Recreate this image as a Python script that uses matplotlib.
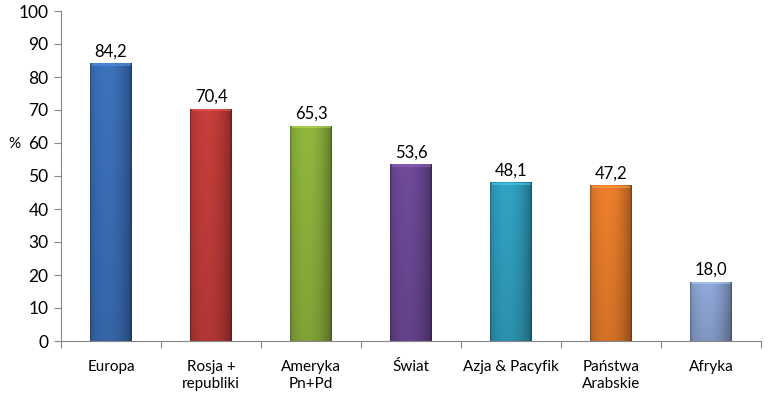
import numpy as np
import matplotlib.pyplot as plt
from matplotlib.colors import to_rgb
from matplotlib.patches import FancyBboxPatch

# Chart data
categories = ['Europa', 'Rosja +\nrepubliki', 'Ameryka\nPn+Pd', 'Świat',
              'Azja & Pacyfik', 'Państwa\nArabskie', 'Afryka']
values = [84.2, 70.4, 65.3, 53.6, 48.1, 47.2, 18.0]
labels = ['84,2', '70,4', '65,3', '53,6', '48,1', '47,2', '18,0']
colors = ['#3A6DB5', '#BE3B38', '#8AAF3B', '#6A4793', '#2F9CBB', '#E37A2A', '#8AA2D0']

plt.rcParams['font.family'] = ['Lato', 'DejaVu Sans']

fig = plt.figure(figsize=(7.71, 3.97), dpi=100)
ax = fig.add_axes([61 / 771, 56 / 397, 700 / 771, 330 / 397])

x = np.arange(len(categories))
bw = 0.42

# shading: brighter left-centre, darker edges, slightly darker toward the bottom
t = np.linspace(0, 1, 64)
across = 1.0 - 0.35 * (np.abs(t - 0.4) / 0.6) ** 2
across[:2] *= 0.8
across[-2:] *= 0.75
down = np.linspace(1.0, 0.88, 128)
shade = down[:, None] * across[None, :]

bars = ax.bar(x, values, width=bw, color='none', edgecolor='none', zorder=2)
for b, c in zip(bars, colors):
    rgb = np.array(to_rgb(c))
    img = np.clip(rgb[None, None, :] * (0.05 + 1.0 * shade[:, :, None]), 0, 1)
    x0, y0 = b.get_x(), b.get_y()
    w, h = b.get_width(), b.get_height()
    im = ax.imshow(img, extent=(x0, x0 + w, y0, y0 + h), aspect='auto',
                   origin='upper', zorder=2, interpolation='bilinear')
    im.set_clip_path(b)
    # light bevel on top
    top = np.clip(rgb * 1.2 + 0.08, 0, 1)
    ax.add_patch(FancyBboxPatch((x0 + 0.015, y0 + h - 0.8), w - 0.03, 0.7,
                                boxstyle='square,pad=0', facecolor=top,
                                edgecolor='none', alpha=0.5, zorder=3))

for xi, v, lab in zip(x, values, labels):
    ax.text(xi, v + 1.2, lab, ha='center', va='bottom', fontsize=12, color='black')

ax.set_xlim(-0.5, len(categories) - 0.5)
ax.set_ylim(0, 100)
ax.set_yticks(np.arange(0, 101, 10))
ax.set_xticks(np.arange(-0.5, len(categories), 1.0))
ax.set_xticklabels([])
ax.set_xticks(x, minor=True)
ax.set_xticklabels(categories, minor=True, fontsize=11)
ax.tick_params(axis='x', which='minor', length=0, pad=14)
ax.tick_params(axis='x', which='major', length=5, color='#868686')
ax.tick_params(axis='y', length=5, color='#868686', labelsize=12.5, pad=4)

for s in ['top', 'right']:
    ax.spines[s].set_visible(False)
for s in ['left', 'bottom']:
    ax.spines[s].set_color('#868686')

ax.set_ylabel('%', rotation=0, fontsize=11)
ax.yaxis.set_label_coords(-0.066, 0.575)

fig.savefig('out.png', dpi=100)
